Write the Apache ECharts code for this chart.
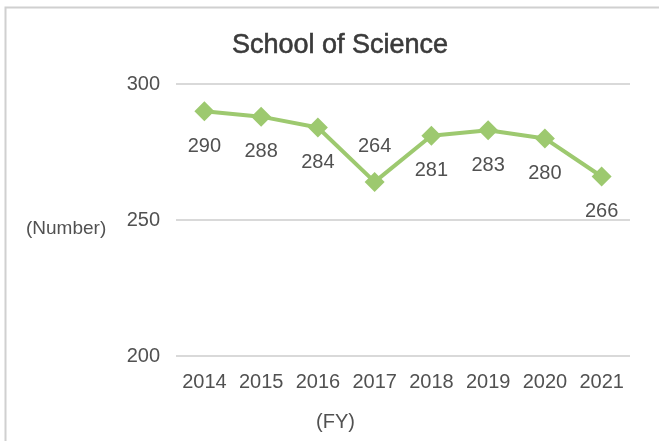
<!DOCTYPE html>
<html>
<head>
<meta charset="utf-8">
<script src="https://cdn.jsdelivr.net/npm/echarts@6/dist/echarts.min.js"></script>
<style>
  html, body { margin: 0; padding: 0; background: #fff; }
  #main { width: 659px; height: 441px; }
</style>
</head>
<body>
<div id="main"></div>
<script>
// 数据
const years = ['2014', '2015', '2016', '2017', '2018', '2019', '2020', '2021'];
const students = [290, 288, 284, 264, 281, 283, 280, 266];
// 标签在上方的年份
const labelAbove = ['2017'];

const chart = echarts.init(document.getElementById('main'));
const font = 'Liberation Sans, Arial, sans-serif';
const textColor = '#515151';

const option = {
  backgroundColor: '#fff',
  animation: false,
  title: {
    text: 'School of Science',
    left: 335,
    top: 27,
    textAlign: 'center',
    textStyle: {
      fontFamily: font, fontSize: 27, fontWeight: 'normal', color: '#3a3a3a',
      textBorderColor: '#3a3a3a', textBorderWidth: 0.6
    }
  },
  graphic: [
    // 外框
    {
      type: 'rect',
      shape: { x: 5.5, y: 7.5, width: 700, height: 500 },
      style: { fill: 'none', stroke: '#d0d0d0', lineWidth: 2 }
    },
    {
      type: 'text',
      left: 26,
      top: 219,
      style: { text: '(Number)', fontFamily: font, fontSize: 19, fill: textColor }
    },
    {
      type: 'text',
      left: 316,
      top: 412,
      style: { text: '(FY)', fontFamily: font, fontSize: 20, fill: textColor }
    }
  ],
  grid: { left: 176, right: 29, top: 84, bottom: 85 },
  xAxis: {
    type: 'category',
    data: years,
    boundaryGap: true,
    axisLine: { show: false },
    axisTick: { show: false },
    axisLabel: { interval: 0, color: textColor, fontFamily: font, fontSize: 20, margin: 16 }
  },
  yAxis: {
    type: 'value',
    min: 200,
    max: 300,
    interval: 50,
    axisLine: { show: false },
    axisTick: { show: false },
    axisLabel: { color: textColor, fontFamily: font, fontSize: 20, margin: 16 },
    splitLine: { lineStyle: { color: '#d9d9d9', width: 2 } }
  },
  series: [{
    type: 'line',
    data: students.map((v, i) => ({
      value: v,
      label: { position: labelAbove.includes(years[i]) ? 'top' : 'bottom' }
    })),
    symbol: 'diamond',
    symbolSize: 20,
    lineStyle: { color: '#9DC96F', width: 4 },
    itemStyle: { color: '#9DC96F' },
    label: {
      show: true,
      distance: 15,
      color: textColor,
      fontFamily: font,
      fontSize: 20
    }
  }]
};

chart.setOption(option);
</script>
</body>
</html>
